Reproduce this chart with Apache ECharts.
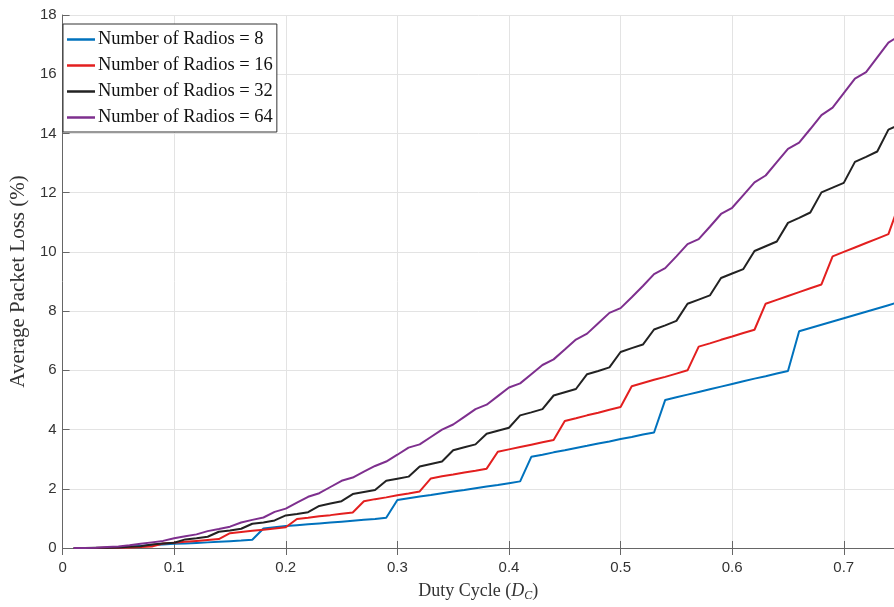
<!DOCTYPE html>
<html>
<head>
<meta charset="utf-8">
<script src="https://cdn.jsdelivr.net/npm/echarts@6/dist/echarts.min.js"></script>
<style>
  html, body { margin: 0; padding: 0; background: #fff; }
  #lineChart { width: 894px; height: 607px; }
</style>
</head>
<body>
<div id="lineChart"></div>
<script>
// duty cycle samples
var dutyCycle = [0.01, 0.02, 0.03, 0.04, 0.05, 0.06, 0.07, 0.08, 0.09, 0.10,
  0.11, 0.12, 0.13, 0.14, 0.15, 0.16, 0.17, 0.18, 0.19, 0.20,
  0.21, 0.22, 0.23, 0.24, 0.25, 0.26, 0.27, 0.28, 0.29, 0.30,
  0.31, 0.32, 0.33, 0.34, 0.35, 0.36, 0.37, 0.38, 0.39, 0.40,
  0.41, 0.42, 0.43, 0.44, 0.45, 0.46, 0.47, 0.48, 0.49, 0.50,
  0.51, 0.52, 0.53, 0.54, 0.55, 0.56, 0.57, 0.58, 0.59, 0.60,
  0.61, 0.62, 0.63, 0.64, 0.65, 0.66, 0.67, 0.68, 0.69, 0.70,
  0.71, 0.72, 0.73, 0.74, 0.75];

var radios8 = [0, 0, 0, 0, 0.01, 0.04, 0.07, 0.10, 0.12, 0.14,
  0.15, 0.17, 0.19, 0.21, 0.23, 0.25, 0.28, 0.66, 0.70, 0.74,
  0.77, 0.80, 0.83, 0.86, 0.89, 0.92, 0.95, 0.98, 1.02, 1.62,
  1.68, 1.74, 1.79, 1.85, 1.91, 1.96, 2.02, 2.08, 2.13, 2.19,
  2.25, 3.08, 3.15, 3.23, 3.30, 3.38, 3.45, 3.53, 3.60, 3.68,
  3.75, 3.83, 3.90, 5.00, 5.09, 5.18, 5.27, 5.36, 5.45, 5.54,
  5.63, 5.72, 5.80, 5.89, 5.98, 7.32, 7.43, 7.54, 7.65, 7.76,
  7.87, 7.98, 8.09, 8.20, 8.31];

var radios16 = [0, 0, 0, 0.005, 0.01, 0.02, 0.03, 0.05, 0.15, 0.18,
  0.21, 0.24, 0.27, 0.30, 0.50, 0.54, 0.58, 0.62, 0.66, 0.70,
  0.98, 1.02, 1.07, 1.11, 1.16, 1.20, 1.58, 1.65, 1.71, 1.78,
  1.84, 1.91, 2.35, 2.42, 2.48, 2.55, 2.61, 2.68, 3.25, 3.33,
  3.41, 3.49, 3.57, 3.65, 4.29, 4.38, 4.48, 4.57, 4.67, 4.76,
  5.46, 5.57, 5.68, 5.78, 5.89, 6.00, 6.80, 6.91, 7.03, 7.14,
  7.26, 7.37, 8.25, 8.38, 8.51, 8.64, 8.77, 8.90, 9.85, 10.00,
  10.15, 10.30, 10.45, 10.60, 11.65];

var radios32 = [0, 0, 0.005, 0.01, 0.02, 0.04, 0.06, 0.12, 0.15, 0.18,
  0.29, 0.33, 0.38, 0.55, 0.59, 0.65, 0.82, 0.86, 0.93, 1.10,
  1.15, 1.21, 1.42, 1.50, 1.58, 1.82, 1.89, 1.96, 2.27, 2.34,
  2.41, 2.75, 2.84, 2.92, 3.30, 3.40, 3.50, 3.86, 3.96, 4.06,
  4.48, 4.58, 4.69, 5.15, 5.26, 5.37, 5.87, 5.98, 6.10, 6.62,
  6.75, 6.87, 7.38, 7.52, 7.67, 8.25, 8.39, 8.53, 9.12, 9.27,
  9.42, 10.03, 10.19, 10.35, 10.98, 11.15, 11.33, 12.01, 12.17, 12.33,
  13.04, 13.21, 13.39, 14.13, 14.30];

var radios64 = [0, 0, 0.01, 0.03, 0.05, 0.09, 0.14, 0.19, 0.24, 0.33,
  0.40, 0.46, 0.57, 0.64, 0.72, 0.86, 0.95, 1.03, 1.22, 1.33,
  1.53, 1.73, 1.85, 2.06, 2.27, 2.38, 2.58, 2.77, 2.92, 3.15,
  3.39, 3.50, 3.75, 4.00, 4.17, 4.43, 4.69, 4.84, 5.13, 5.42,
  5.56, 5.87, 6.18, 6.37, 6.70, 7.04, 7.24, 7.59, 7.94, 8.10,
  8.47, 8.85, 9.25, 9.45, 9.85, 10.26, 10.43, 10.85, 11.28, 11.49,
  11.92, 12.35, 12.58, 13.03, 13.48, 13.69, 14.15, 14.62, 14.87, 15.36,
  15.85, 16.07, 16.57, 17.07, 17.30];

var seriesNames = ['Number of Radios = 8', 'Number of Radios = 16',
  'Number of Radios = 32', 'Number of Radios = 64'];
var seriesColors = ['#0072BD', '#e31f1f', '#222222', '#7E2F8E'];
var seriesValues = [radios8, radios16, radios32, radios64];

function pairs(values) {
  return dutyCycle.map(function (x, i) { return [x, values[i]]; });
}

var lineChart = echarts.init(document.getElementById('lineChart'));

var axisColor = '#666666';
var series = seriesValues.map(function (vals, i) {
  return {
    name: seriesNames[i],
    type: 'line',
    data: pairs(vals),
    symbol: 'none',
    color: seriesColors[i],
    lineStyle: { width: 2 },
    clip: true,
    z: 2 + i
  };
});

var option = {
  backgroundColor: '#fff',
  animation: false,
  grid: { left: 57, right: 0, top: 15, bottom: 53 },
  legend: {
    orient: 'vertical',
    left: 63,
    top: 24,
    icon: 'rect',
    itemWidth: 28,
    itemHeight: 2.5,
    itemGap: 7,
    padding: [6, 4, 5, 4],
    borderColor: '#333',
    borderWidth: 1,
    backgroundColor: '#fff',
    textStyle: { fontFamily: 'Liberation Serif', fontSize: 18.5, color: '#111', padding: [0, 0, 0, -2] },
    data: seriesNames
  },
  xAxis: [{
    type: 'value',
    min: 0,
    max: 0.745,
    interval: 0.1,
    name: '{n|Duty Cycle (}{i|D}{s|C}{n|)}',
    nameLocation: 'middle',
    nameGap: 33,
    nameTextStyle: {
      rich: {
        n: { fontFamily: 'Liberation Serif', fontSize: 18, color: '#333' },
        i: { fontFamily: 'Liberation Serif', fontStyle: 'italic', fontSize: 18, color: '#333' },
        s: { fontFamily: 'Liberation Serif', fontStyle: 'italic', fontSize: 12, color: '#333', padding: [9, 0, 0, 0] }
      }
    },
    axisLine: { show: true, onZero: false, lineStyle: { color: axisColor, width: 1 } },
    axisTick: { show: true, inside: true, length: 7, lineStyle: { color: axisColor } },
    axisLabel: { fontFamily: 'Liberation Sans', fontSize: 15, color: '#333', margin: 12, showMaxLabel: false },
    splitLine: { show: true, lineStyle: { color: '#e3e3e3', width: 1 } }
  }, {
    type: 'value',
    position: 'top',
    min: 0,
    max: 0.745,
    interval: 0.1,
    axisLine: { show: true, lineStyle: { color: axisColor, width: 1 } },
    axisTick: { show: true, inside: true, length: 7, lineStyle: { color: axisColor } },
    axisLabel: { show: false },
    splitLine: { show: false }
  }],
  yAxis: {
    type: 'value',
    min: 0,
    max: 18,
    interval: 2,
    name: 'Average Packet Loss (%)',
    nameLocation: 'middle',
    nameGap: 27,
    nameTextStyle: { fontFamily: 'Liberation Serif', fontSize: 21, color: '#333' },
    axisLine: { show: true, lineStyle: { color: axisColor, width: 1 } },
    axisTick: { show: true, inside: true, length: 7, lineStyle: { color: axisColor } },
    axisLabel: { fontFamily: 'Liberation Sans', fontSize: 15, color: '#333', margin: 6 },
    splitLine: { show: true, lineStyle: { color: '#e3e3e3', width: 1 } }
  },
  series: series
};

lineChart.setOption(option);
</script>
</body>
</html>
